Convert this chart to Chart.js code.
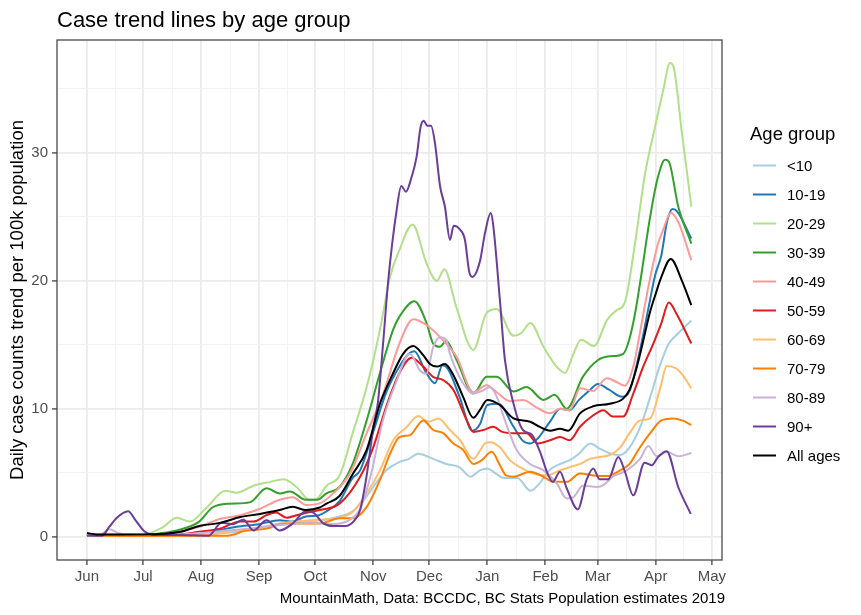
<!DOCTYPE html>
<html>
<head>
<meta charset="utf-8">
<script src="https://cdn.jsdelivr.net/npm/chart.js@4.4.1/dist/chart.umd.min.js"></script>
<style>
  html, body { margin: 0; padding: 0; background: #fff; }
  #wrap { width: 861px; height: 615px; }
</style>
</head>
<body>
<div id="wrap"><canvas id="chart" width="861" height="615"></canvas></div>
<script>
'use strict';

// ---------- axis data (x = days since 2020-06-01) ----------
const monthDays = [0, 30, 61, 92, 122, 153, 183, 214, 245, 273, 304, 334];
const monthLabels = ['Jun', 'Jul', 'Aug', 'Sep', 'Oct', 'Nov', 'Dec', 'Jan', 'Feb', 'Mar', 'Apr', 'May'];
const yMajor = [0, 10, 20, 30];
const yMinor = [5, 15, 25, 35];

const ageGroups = ['<10', '10-19', '20-29', '30-39', '40-49', '50-59', '60-69', '70-79', '80-89', '90+', 'All ages'];
const ageColors = ['#a6cee3', '#1f78b4', '#b2df8a', '#33a02c', '#fb9a99', '#e31a1c', '#fdbf6f', '#ff7f00', '#cab2d6', '#6a3d9a', '#000000'];

// ---------- series: [day, daily cases per 100k] ----------
const ageUnder10 = [[0,0.2],[10,0.1],[30,0.1],[50,0.1],[65,0.2],[80,0.4],[92,0.6],[105,1.0],[115,1.2],[125,1.3],[135,1.6],
  [142,2.0],[148,2.9],[153,3.9],[160,5.2],[167,5.85],[172,6.1],[177,6.5],[185,6.1],[192,5.7],[199,5.45],[205,4.7],[210,5.2],
  [214,5.35],[218,5.0],[223,4.6],[230,4.6],[237,3.6],[242,4.2],[247,5.2],[253,5.7],[258,6.0],[263,6.5],[269,7.3],[274,6.9],
  [280,6.5],[285,6.4],[290,7.0],[296,8.7],[301,10.9],[306,13.3],[311,15.1],[316,15.9],[323,16.9]];
const age10to19 = [[0,0.2],[10,0.15],[30,0.15],[50,0.2],[65,0.4],[80,0.8],[92,1.0],[103,1.3],[110,1.2],[117,1.6],[124,1.7],
  [128,2.0],[135,2.8],[142,4.6],[146,5.2],[153,8.2],[160,11.3],[167,13.3],[172,14.3],[175,14.5],[181,12.9],[186,12.0],
  [190,13.4],[193,13.1],[199,11.0],[206,8.3],[210,8.8],[214,10.3],[220,10.4],[228,8.6],[233,7.5],[237,7.3],[241,7.7],
  [247,8.9],[253,10.0],[258,9.9],[263,10.7],[269,11.5],[273,11.95],[279,11.5],[286,10.95],[290,11.4],[295.6,14.6],
  [300,17.8],[303.6,20.4],[307,22.0],[310,24.6],[313,25.6],[315.5,25.4],[323,23.3]];
const age20to29 = [[0,0.25],[10,0.2],[30,0.2],[40,0.7],[48,1.5],[55,1.2],[64,2.3],[74,3.6],[80,3.45],[89,4.0],[98,4.3],
  [105,4.5],[112,3.9],[119,2.9],[123,3.0],[128,4.0],[135,4.8],[142,8.1],[149.5,11.7],[156.5,16.1],[162,20.3],[167,22.4],
  [174,24.4],[181.5,21.35],[187,20.0],[191,20.9],[197.5,17.9],[206.5,14.6],[213.6,17.5],[219,17.8],[228,15.7],[232,15.9],
  [237,16.7],[244,14.85],[251,13.3],[255.5,12.8],[260,14.3],[264,15.4],[271,14.9],[278,16.95],[283,17.7],[287.4,18.3],
  [293,23.0],[298.2,28.3],[303.6,32.0],[308,34.9],[311.6,37.0],[313.5,36.7],[318,31.5],[323,25.8]];
const age30to39 = [[0,0.2],[10,0.15],[30,0.15],[40,0.3],[48,0.5],[60,1.2],[67,2.3],[76,2.6],[87,2.7],[96,3.8],[103,3.4],
  [108.5,3.55],[117,2.9],[123,2.9],[128,3.4],[135,3.9],[142,5.7],[149.5,9.1],[156.6,12.8],[163.7,16.2],[167,17.2],[175,18.4],
  [181.5,16.7],[185,15.1],[188.7,14.85],[192,15.3],[197.6,13.8],[206.5,11.2],[213.6,12.5],[219,12.5],[228,11.35],[235,11.7],
  [244,10.7],[250,11.1],[256.4,10.0],[265,12.5],[273,13.8],[279.5,14.1],[286.6,14.3],[290,15.5],[293,17.5],[296,20.2],
  [301,25.0],[305,28.0],[309,29.45],[311,29.3],[316,25.8],[323,22.9]];
const age40to49 = [[0,0.2],[10,0.15],[30,0.15],[45,0.3],[60,0.8],[71,1.4],[82,1.7],[92.5,2.2],[103,2.9],[110,3.1],[117,2.5],
  [124,2.6],[131.6,3.4],[140.6,4.95],[149.5,8.1],[158.4,11.2],[167,15.1],[174.4,17.0],[181.5,16.55],[188.7,15.6],
  [197.6,14.05],[206.5,11.3],[213.6,11.85],[219,11.3],[226,10.6],[233,10.7],[240.4,10.1],[247.5,9.65],[252.8,10.0],
  [258,9.9],[263.5,11.6],[270.6,11.4],[277.8,12.4],[283,12.1],[287.5,11.8],[292,13.3],[296,16.3],[300,19.5],[305,22.8],
  [308,24.0],[312,25.3],[316,24.6],[323,21.6]];
const age50to59 = [[0,0.2],[10,0.1],[30,0.1],[50,0.2],[60,0.4],[71,0.65],[82,1.2],[89,1.2],[96,1.7],[101,1.9],[106.7,1.5],
  [112,1.7],[119,1.95],[124.5,2.1],[135,2.6],[146,4.7],[153,7.0],[160,10.2],[167,12.8],[173.5,14.0],[179.7,13.3],[185,12.5],
  [190.4,12.25],[195.8,11.5],[203,9.1],[206.5,8.2],[211.8,8.35],[217,8.6],[222,8.2],[228,8.1],[235,8.1],[241,7.3],
  [247.5,7.55],[252.8,7.8],[258,7.55],[263.5,8.6],[270.6,9.5],[276,9.9],[281,9.4],[286.6,9.4],[292,11.2],[297.3,13.3],
  [302.7,15.1],[307,16.7],[311,18.3],[315,17.45],[323,15.1]];
const age60to69 = [[0,0.2],[10,0.1],[30,0.1],[50,0.1],[65,0.2],[80,0.5],[92,0.7],[105,1.1],[120,1.3],[135,1.5],[142,1.95],
  [149.5,3.4],[156.6,5.2],[163.7,7.55],[171,8.6],[177,9.45],[182.4,9.0],[187.8,9.25],[194,8.35],[199.4,7.55],[206.5,6.1],
  [212.7,7.3],[215.4,7.4],[220.7,7.0],[226,6.0],[231.4,5.45],[238.5,4.95],[245.7,4.8],[252.8,5.2],[258,5.45],[263.5,5.7],
  [268.8,6.1],[274,6.25],[279.5,6.4],[285,7.0],[290,8.1],[295.6,9.1],[301,9.25],[306.5,11.7],[309.8,13.35],[315,13.15],
  [317.8,12.75],[323,11.6]];
const age70to79 = [[0,0.15],[20,0.1],[60,0.1],[75,0.1],[85,0.5],[96,0.65],[103,1.0],[112,1.05],[124.5,1.05],[135,1.45],
  [142,1.45],[149.5,2.35],[156.6,4.45],[162,6.5],[167,7.8],[172.6,7.95],[179.7,9.1],[185,8.35],[190.4,8.1],[195.8,7.3],
  [201,6.8],[206.5,5.7],[211,6.0],[216.3,6.65],[220.7,5.6],[224,4.8],[228,4.7],[236.8,5.1],[244,4.7],[249,4.3],[256.4,4.3],
  [263.5,4.95],[270.6,4.8],[277.8,4.75],[285,5.2],[290,5.7],[295.6,7.0],[301,8.1],[307,9.1],[313.4,9.25],[318,9.1],[323,8.75]];
const age80to89 = [[0,0.2],[7,0.2],[12,0.6],[17,0.3],[25,0.15],[40,0.15],[60,0.3],[75,0.5],[90,0.7],[100,0.9],[110,1.0],
  [120,1.1],[130,1.0],[140,1.3],[146,2.2],[152,5.0],[158,9.0],[165,12.0],[172.6,14.3],[178,13.0],[181.5,12.75],[185,14.8],
  [188.7,15.6],[192,15.4],[194,14.3],[201,12.0],[206.5,11.2],[211.8,11.45],[215.4,11.7],[219,10.95],[224,8.85],[229.6,6.8],
  [236.8,5.7],[244,5.2],[251,4.2],[256.4,3.0],[260,3.1],[265,4.0],[272.4,3.9],[276,4.05],[281,4.7],[288.5,5.2],[295.6,6.1],
  [300,7.1],[304.5,6.3],[310,6.65],[316,6.3],[323,6.55]];
const age90plus = [[0,0.1],[8,0.1],[12,0.8],[16,1.5],[22,2.0],[26,1.3],[31,0.4],[36,0.15],[50,0.15],[65,0.1],[72,1.1],
  [78,1.0],[83.6,1.35],[89,0.5],[96,1.3],[103,0.5],[110,1.05],[117,2.0],[121,1.9],[126,1.1],[131.5,0.85],[138,0.85],[143,1.3],
  [146,2.1],[149.5,4.8],[153,8.5],[155.5,10.5],[158.5,15.5],[161,20.0],[165.5,25.5],[168,27.4],[170.5,26.95],[173.5,28.1],
  [176.2,29.7],[178.3,32.0],[180,32.5],[181.9,32.1],[183.9,32.1],[186,30.75],[188.7,27.4],[191.3,25.8],[194,23.2],[196,24.3],
  [199.4,24.0],[202,23.2],[204.3,20.7],[206,20.3],[210,21.5],[212.7,23.7],[215.8,25.3],[217,24.5],[220.7,18.5],[223.4,13.8],
  [228,10.4],[233,8.35],[237.7,8.0],[242,6.7],[246.6,4.8],[249,4.3],[252.8,5.1],[256.4,3.8],[262.3,2.15],[267,4.45],
  [270.6,5.35],[274,4.5],[278.6,4.5],[284,6.25],[287.5,5.1],[292,3.25],[298,5.8],[301.8,5.6],[305.3,6.25],[309.8,6.7],
  [316,3.9],[322.7,1.8]];
const allAges = [[0,0.3],[5,0.2],[15,0.2],[30,0.2],[50,0.4],[60,0.85],[71,1.1],[82,1.55],[92.5,1.8],[103,2.1],[110,2.35],
  [117,2.1],[124.5,2.3],[128,2.6],[135,3.2],[142,4.9],[149.5,6.8],[156.6,10.4],[163.7,12.8],[169,14.3],[174.4,14.9],
  [179.7,14.2],[183.3,13.5],[187,13.3],[191.3,13.5],[195.8,12.65],[201,10.95],[206.5,9.3],[210,9.9],[214,10.7],[220.7,10.3],
  [228,9.25],[236.8,9.0],[242,8.6],[247.5,8.3],[252.8,8.45],[257.3,8.3],[263.5,9.65],[270.6,10.2],[279.5,10.4],[286.6,10.8],
  [290,11.5],[293,12.8],[296,14.5],[301,17.6],[304,19.0],[307,20.3],[312,21.7],[318,20.0],[323,18.1]];

const seriesList = [ageUnder10, age10to19, age20to29, age30to39, age40to49, age50to59,
  age60to69, age70to79, age80to89, age90plus, allAges];

// ---------- helpers ----------
const FONT = "'Liberation Sans', Arial, Helvetica, sans-serif";
const monthMinor = monthDays.slice(1).map((d, i) => (d + monthDays[i]) / 2);
const xTicks = [...monthDays, ...monthMinor].sort((a, b) => a - b);
const yTicks = [...yMajor, ...yMinor].sort((a, b) => a - b);
const isMajorX = (v) => monthDays.includes(v);
const isMajorY = (v) => yMajor.includes(v);

Chart.defaults.font.family = FONT;

const datasets = seriesList.map((rows, i) => ({
  label: ageGroups[i],
  data: rows.map(([x, y]) => ({ x, y })),
  borderColor: ageColors[i],
  backgroundColor: ageColors[i],
  borderWidth: 2,
  pointRadius: 0,
  fill: false,
  cubicInterpolationMode: 'monotone',
  order: seriesList.length - 1 - i, // later groups on top, "All ages" last
}));

// title, caption, legend and panel border drawn like the ggplot original
const decor = {
  id: 'decor',
  afterDatasetsDraw(chart) {
    const { ctx, chartArea: a } = chart;
    ctx.save();
    ctx.strokeStyle = '#4a4a4a';
    ctx.lineWidth = 1.3;
    ctx.strokeRect(a.left, a.top, a.right - a.left, a.bottom - a.top);
    ctx.restore();
  },
  afterDraw(chart) {
    const { ctx, chartArea: a } = chart;
    ctx.save();
    ctx.fillStyle = '#000';
    ctx.textBaseline = 'alphabetic';
    ctx.font = `22px ${FONT}`;
    ctx.fillText('Case trend lines by age group', a.left, 27);

    ctx.font = `15px ${FONT}`;
    ctx.textAlign = 'right';
    ctx.fillText('MountainMath, Data: BCCDC, BC Stats Population estimates 2019', 725, 603);

    // legend
    ctx.textAlign = 'left';
    ctx.textBaseline = 'middle';
    ctx.font = `18.5px ${FONT}`;
    ctx.fillText('Age group', 750, 135);
    ctx.font = `15px ${FONT}`;
    chart.data.datasets.forEach((ds, i) => {
      const y = 165.5 + i * 29;
      ctx.strokeStyle = ds.borderColor;
      ctx.lineWidth = 2;
      ctx.beginPath();
      ctx.moveTo(753, y);
      ctx.lineTo(776, y);
      ctx.stroke();
      ctx.fillStyle = '#000';
      ctx.fillText(ds.label, 787, y + 1);
    });
    ctx.restore();
  },
};

new Chart(document.getElementById('chart').getContext('2d'), {
  type: 'line',
  data: { datasets },
  options: {
    responsive: false,
    animation: false,
    events: [],
    layout: { padding: { top: 40, right: 139, bottom: 0, left: 0 } },
    plugins: { legend: { display: false }, title: { display: false }, tooltip: { enabled: false } },
    scales: {
      x: {
        type: 'linear',
        min: -16,
        max: 339.4,
        afterBuildTicks: (s) => { s.ticks = xTicks.map((v) => ({ value: v })); },
        afterFit: (s) => { s.height = 55; },
        border: { display: false },
        grid: {
          color: (c) => (c.tick && isMajorX(c.tick.value) ? '#ebebeb' : '#f2f2f2'),
          lineWidth: (c) => (c.tick && isMajorX(c.tick.value) ? 1.8 : 1),
          tickColor: (c) => (c.tick && isMajorX(c.tick.value) ? '#333' : 'rgba(0,0,0,0)'),
          tickLength: 5,
          tickWidth: 1.2,
        },
        ticks: {
          autoSkip: false, maxRotation: 0, minRotation: 0, padding: 3,
          color: '#4d4d4d', font: { size: 15 },
          callback: (v) => { const i = monthDays.indexOf(v); return i >= 0 ? monthLabels[i] : ''; },
        },
      },
      y: {
        min: -1.8,
        max: 38.8,
        afterBuildTicks: (s) => { s.ticks = yTicks.map((v) => ({ value: v })); },
        afterFit: (s) => { s.width = 57; },
        border: { display: false },
        grid: {
          color: (c) => (c.tick && isMajorY(c.tick.value) ? '#ebebeb' : '#f2f2f2'),
          lineWidth: (c) => (c.tick && isMajorY(c.tick.value) ? 1.8 : 1),
          tickColor: (c) => (c.tick && isMajorY(c.tick.value) ? '#333' : 'rgba(0,0,0,0)'),
          tickLength: 5,
          tickWidth: 1.2,
        },
        ticks: {
          autoSkip: false, padding: 4, color: '#4d4d4d', font: { size: 15 },
          callback: (v) => (isMajorY(v) ? String(v) : ''),
        },
        title: {
          display: true,
          text: 'Daily case counts trend per 100k population',
          color: '#000',
          font: { size: 18.5 },
          padding: { top: 7, bottom: 0 },
        },
      },
    },
  },
  plugins: [decor],
});
</script>
</body>
</html>
